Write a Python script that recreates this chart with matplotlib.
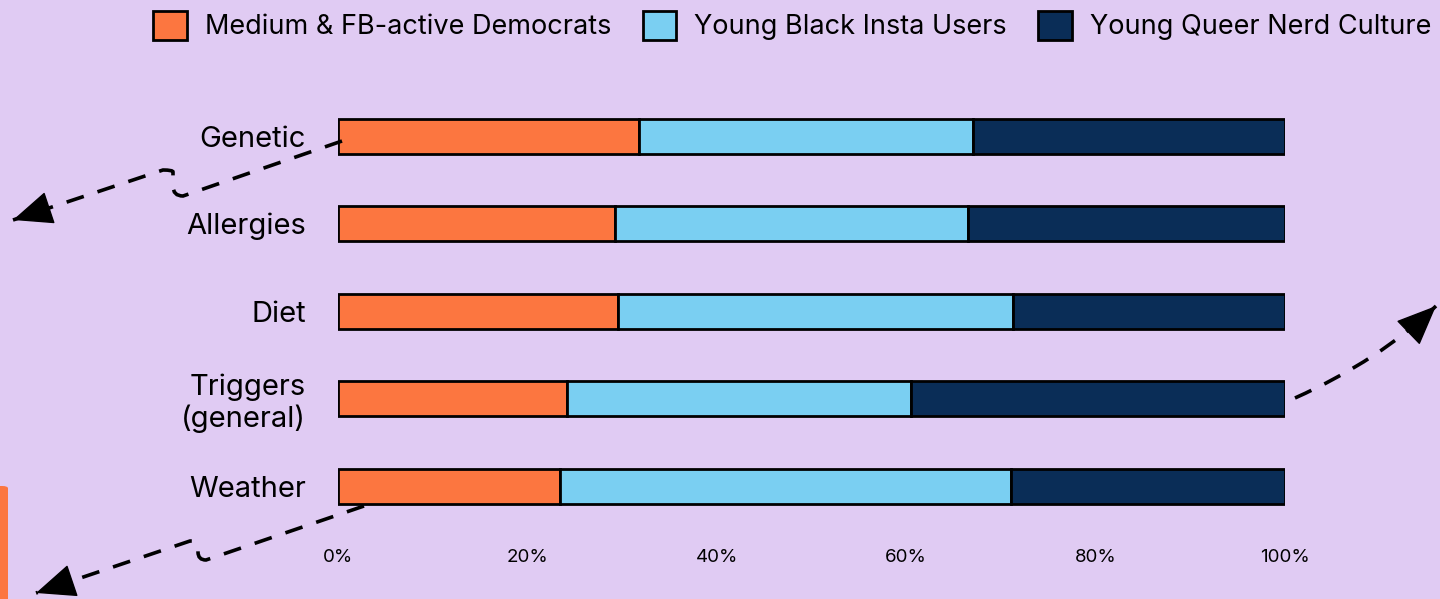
import matplotlib
matplotlib.use("Agg")
import matplotlib.pyplot as plt
from matplotlib.patches import FancyArrowPatch, FancyBboxPatch, Patch, PathPatch
from matplotlib.path import Path
from matplotlib.ticker import PercentFormatter
import numpy as np

categories = ["Genetic", "Allergies", "Diet", "Triggers\n(general)", "Weather"]
series_names = ["Medium & FB-active Democrats", "Young Black Insta Users", "Young Queer Nerd Culture"]
democrats = [31.8, 29.3, 29.6, 24.2, 23.4]
insta_users = [35.3, 37.2, 41.7, 36.3, 47.7]
nerd_culture = [32.9, 33.5, 28.7, 39.5, 28.9]
x_ticks = [0, 20, 40, 60, 80, 100]

colors = ["#FC7640", "#7ACFF2", "#0A2D57"]
bg = "#E0CBF3"
font = "Inter"

W, H = 1440, 599
fig = plt.figure(figsize=(W / 100, H / 100), dpi=100, facecolor=bg)
ax = fig.add_axes([338 / W, 1 - 529.75 / H, 947 / W, 437.5 / H])
ax.set_facecolor(bg)

y = np.arange(len(categories))
left = np.zeros(len(categories))
for vals, c, name in zip([democrats, insta_users, nerd_culture], colors, series_names):
    v = np.array(vals)
    ax.barh(y, v, left=left, height=0.4, color=c, edgecolor="black", linewidth=2, label=name)
    left += v

ax.set_xlim(0, 100)
ax.set_ylim(len(categories) - 0.5, -0.5)
ax.set_yticks(y)
ax.set_yticklabels(categories, fontsize=21, family=font, linespacing=1.15)
ax.set_xticks(x_ticks)
ax.xaxis.set_major_formatter(PercentFormatter(decimals=0))
for lbl in ax.get_xticklabels():
    lbl.set_fontfamily(font)
    lbl.set_fontsize(13.5)
ax.tick_params(axis="y", length=0, pad=23)
ax.tick_params(axis="x", length=0, pad=13.5)
for s in ax.spines.values():
    s.set_visible(False)

handles = [Patch(facecolor=c, edgecolor="black", linewidth=2) for c in colors]
fig.legend(handles, series_names, loc="upper right", bbox_to_anchor=(1446 / W, 1 + 4 / H),
           ncol=3, frameon=False, prop={"family": font, "size": 19.5},
           handlelength=1.25, handleheight=1.25, handletextpad=0.66,
           columnspacing=1.15, borderaxespad=0.15)

# decorative dashed arrows, drawn in figure pixels
def px(x, yy):
    return (x / W, 1 - yy / H)

M, L, C3 = Path.MOVETO, Path.LINETO, Path.CURVE3
lw = 2.6
dash = (0, (5, 4))


def dashed_arrow(points, codes):
    """Dashed shaft along the given path plus a solid arrowhead at its end."""
    verts = [px(*p) for p in points]
    fig.add_artist(PathPatch(Path(verts[:-1] + [verts[-1]], codes), transform=fig.transFigure,
                             fill=False, edgecolor="black", linewidth=lw, linestyle=dash,
                             capstyle="butt"))
    (x0, y0), (x1, y1) = points[-2], points[-1]
    d = np.hypot(x1 - x0, y1 - y0)
    back = (x1 - (x1 - x0) * 26 / d, y1 - (y1 - y0) * 26 / d)
    fig.add_artist(FancyArrowPatch(px(*back), px(x1, y1), transform=fig.transFigure,
                                   arrowstyle="-|>,head_length=26,head_width=11",
                                   color="black", linewidth=1, mutation_scale=1,
                                   shrinkA=0, shrinkB=0))


dashed_arrow([(342, 141), (183, 196), (173, 196), (173, 186), (173, 172),
              (173, 170), (163, 170), (13, 220)],
             [M, L, C3, C3, L, C3, C3, L])

dashed_arrow([(364, 506), (206, 560), (198, 560), (198, 552), (198, 545),
              (198, 541), (190, 541), (36, 593)],
             [M, L, C3, C3, L, C3, C3, L])

dashed_arrow([(1295, 398), (1380, 360), (1436, 306)],
             [M, C3, C3])

# orange tab at the lower left edge
fig.add_artist(FancyBboxPatch(px(-20, 620), 28 / W, 134 / H, boxstyle="round,pad=0,rounding_size=0.004",
                              transform=fig.transFigure, facecolor=colors[0], edgecolor="none"))

fig.savefig("out.png", dpi=100, facecolor=bg)
